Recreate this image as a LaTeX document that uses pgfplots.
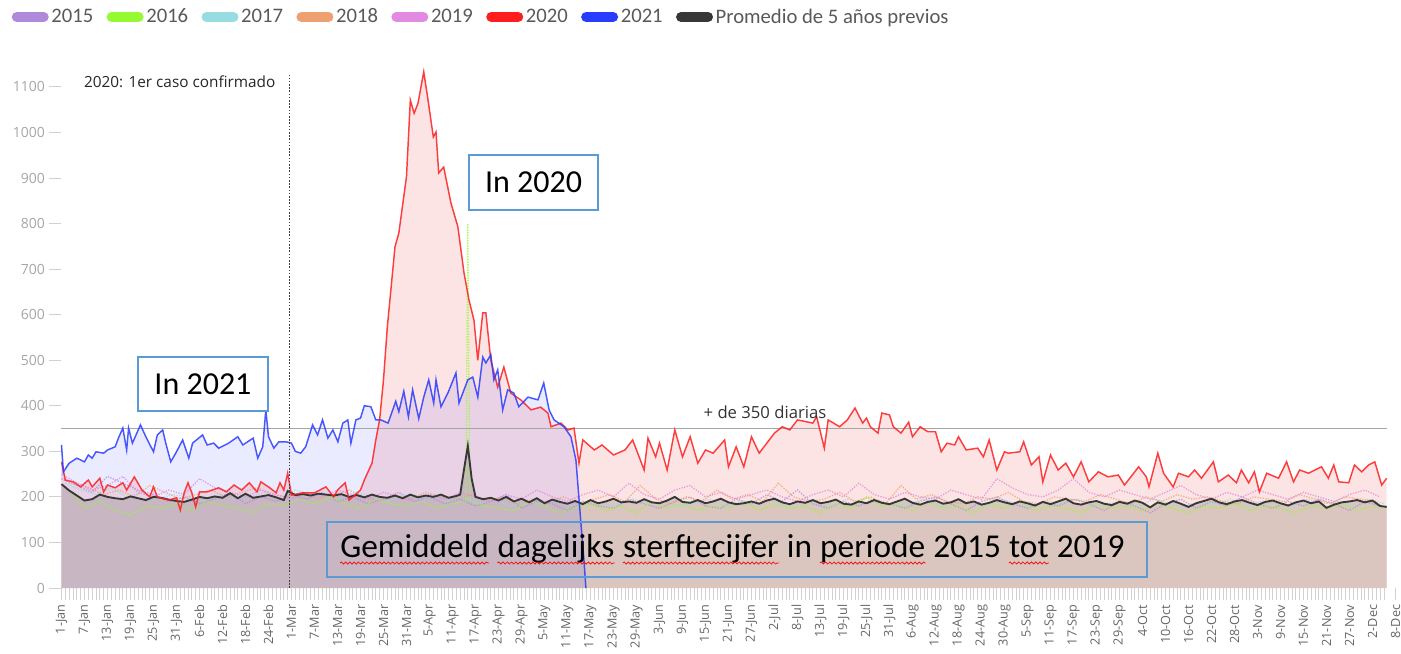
\documentclass[border=0pt]{standalone}
\usepackage{fontspec}
\setmainfont{Carlito}
\newfontfamily\osans{Open Sans}
\usepackage{pgfplots}
\usepackage{pgfplotstable}
\pgfplotsset{compat=1.18}
\usetikzlibrary{decorations.pathmorphing}
\definecolor{c15}{RGB}{176,138,218}
\definecolor{c16}{RGB}{150,250,50}
\definecolor{c17}{RGB}{150,220,224}
\definecolor{c18}{RGB}{238,160,112}
\definecolor{c19}{RGB}{226,138,226}
\definecolor{c20}{RGB}{255,30,30}
\definecolor{c21}{RGB}{40,60,255}
\definecolor{cavg}{RGB}{55,55,55}
\definecolor{redfill}{RGB}{253,228,228}
\definecolor{basefill}{RGB}{218,198,190}
\definecolor{boxblue}{RGB}{91,155,213}
\newcommand\redwave[1]{\tikz[baseline=(w.base)]{\node[inner sep=0pt, draw=none, fill=none, minimum width=0pt, minimum height=0pt] (w) {#1}; \draw[red, line width=0.5pt, decorate, decoration={snake, amplitude=0.8pt, segment length=3.2pt}] ([yshift=-4pt]w.base west) -- ([yshift=-4pt]w.base east);}}

\pgfplotstableread{
x y
0 277
1 237
3 233
5 222
7 237
8 222
10 241
11 211
12 226
14 220
16 231
17 215
19 244
21 215
23 200
24 222
25 200
28 193
30 198
31 171
32 209
33 231
34 209
35 178
36 211
38 211
41 220
43 211
45 226
47 215
49 231
51 211
52 233
54 222
56 209
57 231
58 215
59 252
60 204
63 209
66 209
69 222
71 200
72 215
74 231
75 193
76 200
78 215
79 237
81 274
82 325
83 370
84 457
85 573
87 749
88 779
90 903
91 1071
92 1042
93 1064
94.5 1133
95.5 1078
97 990
97.7 1001
98.4 911
99.7 924
101.6 845
103.4 793
105 692
106.3 632
107.6 588
108.6 500
109.9 604
110.7 604
112 500
113.8 441
115.4 485
117.2 428
119.8 413
122.5 391
125 397
126.9 384
127.7 354
130.3 362
132.1 347
133.7 351
135 274
136 325
139 303
141 314
144 292
147 303
149 325
152 259
153 329
155 288
156 318
158 259
160 347
162 288
164 332
166 274
168 303
170 296
173 325
174 266
176 310
178 266
180 332
182 296
186 340
188 354
190 347
192 369
196 362
197 376
199 307
200 369
203 354
205 369
207 395
209 362
210 373
211 354
213 340
214 384
216 380
217 354
219 340
221 364
222 332
224 354
226 343
228 343
229.5 299
231 318
233 314
234 332
236 303
239 307
240.5 288
242 325
244 259
246 299
247 296
250 299
251 321
253 270
255 288
256 233
258 292
260 259
262 274
264 244
266 277
268 233
270.5 255
273 244
275.7 248
277.3 226
281 266
283 244
283.7 222
286 296
287.5 252
290 222
291.4 252
294 244
295.6 259
297.4 241
300.5 277
301.8 233
304.4 248
306.5 231
307.8 259
309.7 231
311.2 255
312.5 211
314.4 252
317.5 241
319.6 277
321.4 233
323 259
325.3 252
328.7 266
330.5 241
331.9 270
333.2 233
335.8 231
337.3 270
339.2 255
341 270
342.6 277
344.4 226
345.7 241
}\redtab

\pgfplotstableread{
x y
0 314
0.5 255
2 274
4 285
6 277
7 292
8 285
9 299
11 296
12 303
14 310
15 332
16 351
17 303
17.5 351
18.5 318
20.6 358
22 332
24 299
25 336
26.4 347
27.2 318
28.5 277
30 299
31.6 325
33.2 285
34.2 318
36.8 336
38 314
39.7 318
41 307
43.6 318
46 332
47.3 314
50 329
51.2 285
52.5 310
53.3 391
54 332
55.4 307
56.7 321
58.5 321
60 318
61 300
62.4 296
63.7 310
65.5 358
66.8 336
68.1 369
69.5 329
70.8 347
72.1 321
73.4 362
74.7 369
75.5 318
76.8 369
78 373
79 400
80.7 398
82 369
83.3 369
85.2 362
87.2 410
88 387
89.3 432
90.5 376
91.6 435
93.2 372
94.5 419
95.8 457
97.1 406
97.7 457
99 398
100.8 428
102.9 472
103.7 406
106 457
107.3 463
108.6 419
109.9 507
110.7 494
112 512
112.8 457
113.8 479
115.1 391
116.4 435
118 428
119.3 398
121.7 419
124.3 413
125.8 450
127.2 391
128.5 369
131.1 354
132.9 332
134.2 281
135.5 143
136.3 61
136.8 0
}\bluetab

\pgfplotstableread{
x y
0 228
2 214
4 203
6 192
8 195
10 205
12 200
14 197
16 195
18 201
20 197
22 193
24 200
26 198
28 194
30 191
32 189
34 194
36 200
38 197
40 201
42 198
44 208
46 197
48 207
50 198
52 201
54 204
56 199
58 193
59 213
61 204
63 206
65 203
67 207
69 205
71 203
73 206
75 200
77 204
79 199
81 205
83 200
85 198
87 203
89 197
91 205
93 199
95 203
97 200
99 205
101 198
103 202
104 205
105 260
106 312
107 240
108 200
110 195
112 198
114 192
116 200
118 190
120 196
122 188
124 197
126 186
128 194
130 189
132 185
134 191
136 184
138 193
140 186
142 190
144 196
146 188
148 190
150 187
152 195
154 188
156 186
158 192
160 200
162 189
164 187
166 193
168 186
170 190
172 196
174 188
176 184
178 186
180 190
182 185
184 192
186 196
188 188
190 184
192 190
194 187
196 193
198 186
200 189
202 194
204 185
206 183
208 190
210 186
212 193
214 187
216 184
218 190
220 196
222 187
224 183
226 189
228 192
230 185
232 188
234 195
236 186
238 190
240 183
242 187
244 193
246 188
248 184
250 190
252 186
254 181
256 189
258 184
260 190
262 196
264 186
266 183
268 188
270 191
272 185
274 182
276 189
278 185
280 192
282 187
284 177
286 188
288 183
290 191
292 185
294 178
296 186
298 191
300 196
302 188
304 184
306 190
308 193
310 187
312 182
314 189
316 192
318 186
320 181
322 188
324 192
326 186
328 190
330 176
332 183
334 188
336 190
338 193
340 188
342 192
344 180
345.7 178
}\avgtab

\begin{document}
\begin{tikzpicture}
\begin{axis}[
  at={(0,0)}, anchor=south west,
  scale only axis, width=1000.5pt, height=389.5pt,
  xmin=0, xmax=348, ymin=0, ymax=1140,
  clip=false,
  axis x line*=bottom, axis y line*=left,
  axis line style={draw=none},
  tick align=outside,
  major tick length=9pt, minor tick length=9pt,
  tick style={draw=black!18, line width=0.6pt},
  xtick={0,6,...,348},
  minor xtick={0,1,...,345},
  xticklabels={1-Jan,7-Jan,13-Jan,19-Jan,25-Jan,31-Jan,6-Feb,12-Feb,18-Feb,24-Feb,1-Mar,7-Mar,13-Mar,19-Mar,25-Mar,31-Mar,5-Apr,11-Apr,17-Apr,23-Apr,29-Apr,5-May,11-May,17-May,23-May,29-May,3-Jun,9-Jun,15-Jun,21-Jun,27-Jun,2-Jul,8-Jul,13-Jul,19-Jul,25-Jul,31-Jul,6-Aug,12-Aug,18-Aug,24-Aug,30-Aug,5-Sep,11-Sep,17-Sep,23-Sep,29-Sep,4-Oct,10-Oct,16-Oct,22-Oct,28-Oct,3-Nov,9-Nov,15-Nov,21-Nov,27-Nov,2-Dec,8-Dec},
  x tick label style={rotate=90, anchor=east, font=\osans\fontsize{9.5}{9.5}\selectfont, text=black!60},
  ytick={0,100,...,1100},
  y tick label style={font=\osans\fontsize{10.5}{10.5}\selectfont, text=black!35},
  /pgf/number format/assume math mode=true,
  /pgf/number format/1000 sep={},
  legend columns=8,
  legend style={at={(-0.0405,1.0996)}, anchor=west, draw=none, fill=none,
    font=\fontsize{15.5}{15.5}\selectfont, text=black!65,
    /tikz/every even column/.append style={column sep=8pt}},
  legend image code/.code={\draw[line width=7.5pt,line cap=round] (3.75pt,0)--(24pt,0);},
]
\addlegendimage{c15}
\addlegendimage{c16}
\addlegendimage{c17}
\addlegendimage{c18}
\addlegendimage{c19}
\addlegendimage{c20}
\addlegendimage{c21}
\addlegendimage{cavg}
\legend{2015,2016,2017,2018,2019,2020,2021,Promedio de 5 años previos}

% fills
\addplot[draw=none, fill=redfill, forget plot] table {\redtab} \closedcycle;
\addplot[draw=none, fill=basefill, forget plot] table {\avgtab} \closedcycle;
\addplot[draw=none, fill=blue, fill opacity=0.08, forget plot] table {\bluetab} \closedcycle;

% background years
\addplot[c15, densely dotted, line width=1pt, opacity=0.75, forget plot] coordinates {
(0,240)(4,225)(8,210)(12,245)(16,230)(20,215)(24,205)(28,190)(32,200)(36,185)(40,195)(44,210)(48,185)(52,200)(56,190)(60,205)(64,195)(68,210)(72,190)(76,200)(80,185)(84,195)(88,210)(92,190)(96,200)(100,185)(104,195)(108,180)(112,190)(116,205)(120,175)(124,190)(128,185)(132,170)(136,190)(140,180)(144,175)(148,195)(152,185)(156,175)(160,190)(164,200)(168,180)(172,175)(176,195)(180,185)(184,205)(188,190)(192,215)(196,185)(200,175)(204,190)(208,180)(212,195)(216,185)(220,175)(224,190)(228,200)(232,185)(236,170)(240,190)(244,200)(248,185)(252,175)(256,190)(260,180)(264,195)(268,185)(272,170)(276,190)(280,180)(284,165)(288,185)(292,195)(296,175)(300,190)(304,180)(308,200)(312,185)(316,175)(320,190)(324,180)(328,195)(332,185)(336,170)(340,190)(344,180)};
\addplot[c16, densely dotted, line width=1pt, opacity=0.8, forget plot] coordinates {
(2,215)(6,175)(10,190)(14,170)(18,160)(22,180)(26,175)(30,185)(34,170)(38,190)(42,180)(46,175)(50,165)(54,185)(58,180)(62,195)(66,185)(70,200)(74,185)(78,175)(82,195)(86,185)(90,180)(94,190)(98,175)(102,185)(105.5,190)(106,800)(106.5,190)(110,180)(114,175)(118,170)(122,190)(126,180)(130,165)(134,175)(138,185)(142,170)(146,180)(150,165)(154,190)(158,175)(162,185)(166,170)(170,180)(174,175)(178,190)(182,170)(186,185)(190,175)(194,180)(198,165)(202,185)(206,175)(210,200)(214,180)(218,185)(222,170)(226,190)(230,175)(234,180)(238,165)(242,185)(246,175)(250,190)(254,170)(258,180)(262,175)(266,165)(270,185)(274,175)(278,180)(282,170)(286,185)(290,175)(294,165)(298,180)(302,175)(306,185)(310,170)(314,180)(318,175)(322,165)(326,180)(330,175)(334,185)(338,170)(342,180)(345,175)};
\addplot[c17, densely dotted, line width=1pt, opacity=0.75, forget plot] coordinates {
(1,230)(5,215)(9,205)(13,220)(17,200)(21,210)(25,195)(29,205)(33,200)(37,190)(41,205)(45,195)(49,200)(53,210)(57,195)(61,215)(65,205)(69,200)(73,195)(77,210)(81,200)(85,190)(89,205)(93,195)(97,200)(101,190)(105,200)(109,185)(113,195)(117,180)(121,190)(125,185)(129,195)(133,180)(137,190)(141,185)(145,180)(149,195)(153,185)(157,190)(161,180)(165,185)(169,195)(173,180)(177,190)(181,185)(185,195)(189,180)(193,190)(197,185)(201,180)(205,195)(209,185)(213,190)(217,180)(221,185)(225,195)(229,180)(233,190)(237,185)(241,180)(245,195)(249,185)(253,180)(257,190)(261,185)(265,195)(269,180)(273,185)(277,190)(281,180)(285,195)(289,185)(293,180)(297,190)(301,185)(305,195)(309,180)(313,190)(317,185)(321,180)(325,195)(329,185)(333,190)(337,180)(341,195)(345,185)};
\addplot[c18, densely dotted, line width=1pt, opacity=0.75, forget plot] coordinates {
(3,235)(7,220)(11,205)(15,215)(19,200)(23,225)(27,210)(31,195)(35,205)(39,215)(43,200)(47,210)(51,220)(55,205)(59,200)(63,210)(67,195)(71,205)(75,215)(79,200)(83,190)(87,205)(91,195)(95,210)(99,200)(103,195)(107,205)(111,190)(115,200)(119,185)(123,195)(127,190)(131,200)(135,185)(139,195)(143,205)(147,190)(151,225)(155,195)(159,185)(163,200)(167,190)(171,215)(175,195)(179,205)(183,190)(187,230)(191,200)(195,190)(199,195)(203,210)(207,190)(211,200)(215,185)(219,225)(223,195)(227,205)(231,190)(235,185)(239,200)(243,195)(247,210)(251,190)(255,185)(259,200)(263,195)(267,190)(271,205)(275,195)(279,185)(283,200)(287,190)(291,205)(295,195)(299,200)(303,190)(307,185)(311,200)(315,195)(319,190)(323,205)(327,195)(331,185)(335,200)(339,195)(343,190)};
\addplot[c19, densely dotted, line width=1pt, opacity=0.8, forget plot] coordinates {
(0,250)(4,230)(8,215)(12,225)(16,245)(20,210)(24,200)(28,215)(32,205)(36,240)(40,220)(44,210)(48,200)(52,215)(56,205)(60,195)(64,210)(68,200)(72,215)(76,205)(80,195)(84,210)(88,200)(92,190)(96,205)(100,195)(104,210)(108,200)(112,190)(116,205)(120,195)(124,215)(128,200)(132,190)(136,205)(140,215)(144,200)(148,230)(152,205)(156,195)(160,215)(164,225)(168,200)(172,210)(176,195)(180,205)(184,215)(188,200)(192,190)(196,205)(200,215)(204,200)(208,230)(212,205)(216,195)(220,210)(224,200)(228,195)(232,215)(236,205)(240,195)(244,240)(248,220)(252,205)(256,200)(260,215)(264,240)(268,210)(272,200)(276,215)(280,205)(284,195)(288,210)(292,225)(296,205)(300,195)(304,210)(308,200)(312,215)(316,205)(320,195)(324,210)(328,200)(332,190)(336,205)(340,215)(344,200)};

% threshold line
\addplot[black!35, line width=1.1pt, forget plot] coordinates {(0,350) (345.7,350)};

% lines
\addplot[cavg, line width=1.4pt, forget plot] table {\avgtab};
\addplot[c20, line width=1.1pt, opacity=0.85, forget plot] table {\redtab};
\addplot[c21, line width=1.1pt, opacity=0.85, forget plot] table {\bluetab};

% first case marker
\addplot[black!75, dash pattern=on 1.2pt off 1.2pt, line width=0.6pt, forget plot] coordinates {(59.5,0) (59.5,1125)};
\end{axis}

\node[anchor=east, font=\osans\fontsize{11.5}{11.5}\selectfont, text=black!85] at (163.9pt,379.5pt) {2020: 1er caso confirmado};
\node[font=\osans\fontsize{12.5}{12.5}\selectfont, text=black!80] at (527.6pt,132pt) {+ de 350 diarias};
\node[draw=boxblue, line width=1.1pt, fill=white, minimum width=97.5pt, minimum height=40.5pt, inner sep=0pt, font=\fontsize{24}{24}\selectfont] at (106.1pt,153pt) {In 2021};
\node[draw=boxblue, line width=1.1pt, fill=white, minimum width=96.75pt, minimum height=41.25pt, inner sep=0pt, font=\fontsize{24}{24}\selectfont] at (354pt,304.1pt) {In 2020};
\draw[boxblue, line width=1.1pt] (199.1pt,8.3pt) rectangle (814.1pt,49.5pt);
\node[inner sep=0pt, font=\fontsize{25}{25}\selectfont] at (502.9pt,28.9pt) {\redwave{Gemiddeld} \redwave{dagelijks} \redwave{sterftecijfer} in \redwave{periode} 2015 \redwave{tot} 2019};

\pgfresetboundingbox
\useasboundingbox (-46.125pt,-48.75pt) rectangle (1004.625pt,441pt);
\end{tikzpicture}
\end{document}
